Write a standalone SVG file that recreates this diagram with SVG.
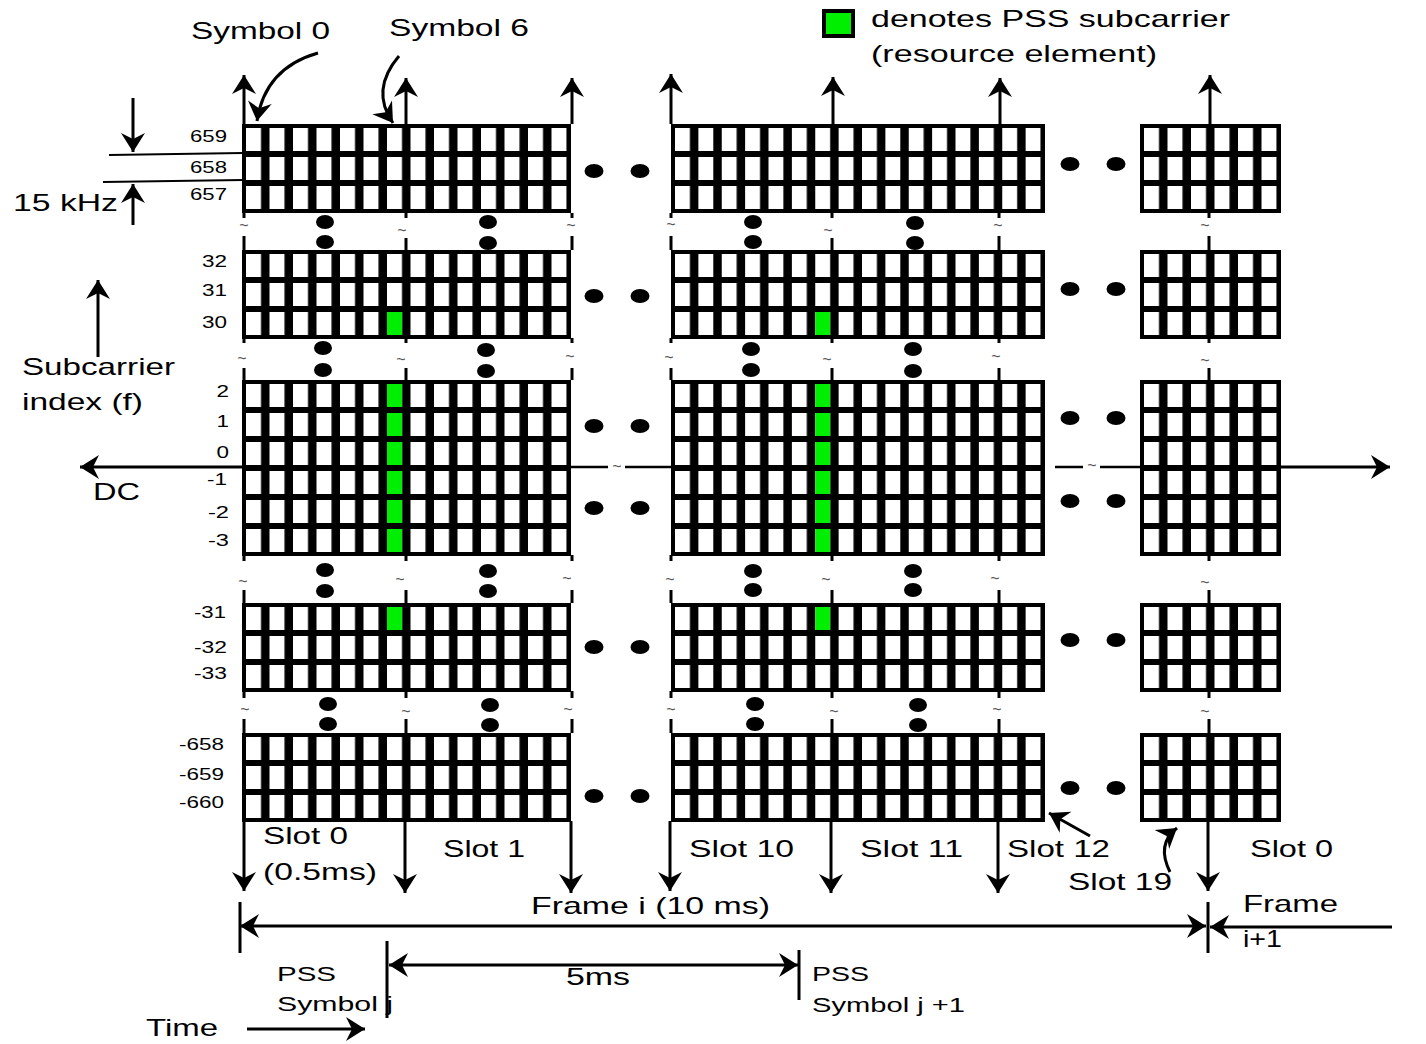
<svg xmlns="http://www.w3.org/2000/svg" width="1426" height="1044" viewBox="0 0 1426 1044">
<style>
text{font-family:"Liberation Sans",Arial,sans-serif;fill:#000}
.lb{font-size:24px}
.sm{font-size:21px}
.rl{font-size:16.5px;text-anchor:end}
.tl{font-size:16px;fill:#555;text-anchor:middle}
.bk{fill:#000}
.gr{fill:#00ee00}
.ln{stroke:#000;stroke-width:3;fill:none}
.thin{stroke:#000;stroke-width:2;fill:none}
.ar{marker-end:url(#ah)}
.ar2{marker-start:url(#ah);marker-end:url(#ah)}
</style>
<defs>
<marker id="ah" viewBox="-20 -13 22 26" refX="0" refY="0" markerWidth="22" markerHeight="26" markerUnits="userSpaceOnUse" orient="auto-start-reverse"><path d="M0,0 L-19,-12 L-13,0 L-19,12 Z" fill="#000"/></marker>
<pattern id="gA" patternUnits="userSpaceOnUse" x="4" y="4" width="23.5" height="29"><rect width="15" height="23" fill="#fff"/></pattern>
<pattern id="gB" patternUnits="userSpaceOnUse" x="4" y="4" width="23.375" height="29"><rect width="14.9" height="23" fill="#fff"/></pattern>
</defs>
<rect width="1426" height="1044" fill="#fff"/>

<g id="blockA">
<g id="A1" transform="translate(242,124)"><rect class="bk" width="329" height="89"/><rect x="4" y="4" width="321" height="81" fill="url(#gA)"/></g>
<g id="A2" transform="translate(242,250)"><rect class="bk" width="329" height="89"/><rect x="4" y="4" width="321" height="81" fill="url(#gA)"/><rect class="gr" x="145" y="62" width="15" height="23"/></g>
<g id="A3" transform="translate(242,380)"><rect class="bk" width="329" height="176"/><rect x="4" y="4" width="321" height="168" fill="url(#gA)"/>
<rect class="gr" x="145" y="4" width="15" height="23"/><rect class="gr" x="145" y="33" width="15" height="23"/><rect class="gr" x="145" y="62" width="15" height="23"/><rect class="gr" x="145" y="91" width="15" height="23"/><rect class="gr" x="145" y="120" width="15" height="23"/><rect class="gr" x="145" y="149" width="15" height="23"/></g>
<g id="A4" transform="translate(242,603)"><rect class="bk" width="329" height="89"/><rect x="4" y="4" width="321" height="81" fill="url(#gA)"/><rect class="gr" x="145" y="4" width="15" height="23"/></g>
<g id="A5" transform="translate(242,733)"><rect class="bk" width="329" height="89"/><rect x="4" y="4" width="321" height="81" fill="url(#gA)"/></g>
</g>

<g id="blockB">
<g id="B1" transform="translate(671,124)"><rect class="bk" width="374" height="89"/><rect x="4" y="4" width="366" height="81" fill="url(#gB)"/></g>
<g id="B2" transform="translate(671,250)"><rect class="bk" width="374" height="89"/><rect x="4" y="4" width="366" height="81" fill="url(#gB)"/><rect class="gr" x="144.25" y="62" width="14.9" height="23"/></g>
<g id="B3" transform="translate(671,380)"><rect class="bk" width="374" height="176"/><rect x="4" y="4" width="366" height="168" fill="url(#gB)"/>
<rect class="gr" x="144.25" y="4" width="14.9" height="23"/><rect class="gr" x="144.25" y="33" width="14.9" height="23"/><rect class="gr" x="144.25" y="62" width="14.9" height="23"/><rect class="gr" x="144.25" y="91" width="14.9" height="23"/><rect class="gr" x="144.25" y="120" width="14.9" height="23"/><rect class="gr" x="144.25" y="149" width="14.9" height="23"/></g>
<g id="B4" transform="translate(671,603)"><rect class="bk" width="374" height="89"/><rect x="4" y="4" width="366" height="81" fill="url(#gB)"/><rect class="gr" x="144.25" y="4" width="14.9" height="23"/></g>
<g id="B5" transform="translate(671,733)"><rect class="bk" width="374" height="89"/><rect x="4" y="4" width="366" height="81" fill="url(#gB)"/></g>
</g>

<g id="blockC">
<g id="C1" transform="translate(1140,124)"><rect class="bk" width="141" height="89"/><rect x="4" y="4" width="133" height="81" fill="url(#gA)"/></g>
<g id="C2" transform="translate(1140,250)"><rect class="bk" width="141" height="89"/><rect x="4" y="4" width="133" height="81" fill="url(#gA)"/></g>
<g id="C3" transform="translate(1140,380)"><rect class="bk" width="141" height="176"/><rect x="4" y="4" width="133" height="168" fill="url(#gA)"/></g>
<g id="C4" transform="translate(1140,603)"><rect class="bk" width="141" height="89"/><rect x="4" y="4" width="133" height="81" fill="url(#gA)"/></g>
<g id="C5" transform="translate(1140,733)"><rect class="bk" width="141" height="89"/><rect x="4" y="4" width="133" height="81" fill="url(#gA)"/></g>
</g>

<g id="legend">
<rect x="824" y="11" width="29" height="25" fill="#00ee00" stroke="#000" stroke-width="4"/>
<text class="lb" x="871" y="27" textLength="359" lengthAdjust="spacingAndGlyphs">denotes PSS subcarrier</text>
<text class="lb" x="871" y="62" textLength="286" lengthAdjust="spacingAndGlyphs">(resource element)</text>
</g>

<g id="dots" fill="#000">
<ellipse cx="325" cy="222" rx="9" ry="7"/><ellipse cx="325" cy="242" rx="9" ry="7"/><ellipse cx="488" cy="222" rx="9" ry="7"/><ellipse cx="488" cy="243" rx="9" ry="7"/>
<ellipse cx="753" cy="222" rx="9" ry="7"/><ellipse cx="753" cy="242" rx="9" ry="7"/><ellipse cx="915" cy="223" rx="9" ry="7"/><ellipse cx="915" cy="243" rx="9" ry="7"/>
<ellipse cx="323" cy="348" rx="9" ry="7"/><ellipse cx="323" cy="370" rx="9" ry="7"/><ellipse cx="486" cy="350" rx="9" ry="7"/><ellipse cx="486" cy="371" rx="9" ry="7"/>
<ellipse cx="751" cy="349" rx="9" ry="7"/><ellipse cx="751" cy="370" rx="9" ry="7"/><ellipse cx="913" cy="349" rx="9" ry="7"/><ellipse cx="913" cy="371" rx="9" ry="7"/>
<ellipse cx="325" cy="570" rx="9" ry="7"/><ellipse cx="325" cy="591" rx="9" ry="7"/><ellipse cx="488" cy="571" rx="9" ry="7"/><ellipse cx="488" cy="591" rx="9" ry="7"/>
<ellipse cx="753" cy="571" rx="9" ry="7"/><ellipse cx="753" cy="590" rx="9" ry="7"/><ellipse cx="913" cy="571" rx="9" ry="7"/><ellipse cx="913" cy="590" rx="9" ry="7"/>
<ellipse cx="328" cy="704" rx="9" ry="7"/><ellipse cx="328" cy="724" rx="9" ry="7"/><ellipse cx="490" cy="705" rx="9" ry="7"/><ellipse cx="490" cy="725" rx="9" ry="7"/>
<ellipse cx="755" cy="704" rx="9" ry="7"/><ellipse cx="755" cy="724" rx="9" ry="7"/><ellipse cx="918" cy="705" rx="9" ry="7"/><ellipse cx="918" cy="725" rx="9" ry="7"/>
<ellipse cx="594" cy="171" rx="9.5" ry="7"/><ellipse cx="640" cy="171" rx="9.5" ry="7"/><ellipse cx="1070" cy="164" rx="9.5" ry="7"/><ellipse cx="1116" cy="164" rx="9.5" ry="7"/>
<ellipse cx="594" cy="296" rx="9.5" ry="7"/><ellipse cx="640" cy="296" rx="9.5" ry="7"/><ellipse cx="1070" cy="289" rx="9.5" ry="7"/><ellipse cx="1116" cy="289" rx="9.5" ry="7"/>
<ellipse cx="594" cy="426" rx="9.5" ry="7"/><ellipse cx="640" cy="426" rx="9.5" ry="7"/><ellipse cx="1070" cy="418" rx="9.5" ry="7"/><ellipse cx="1116" cy="418" rx="9.5" ry="7"/>
<ellipse cx="594" cy="508" rx="9.5" ry="7"/><ellipse cx="640" cy="508" rx="9.5" ry="7"/><ellipse cx="1070" cy="501" rx="9.5" ry="7"/><ellipse cx="1116" cy="501" rx="9.5" ry="7"/>
<ellipse cx="594" cy="647" rx="9.5" ry="7"/><ellipse cx="640" cy="647" rx="9.5" ry="7"/><ellipse cx="1070" cy="640" rx="9.5" ry="7"/><ellipse cx="1116" cy="640" rx="9.5" ry="7"/>
<ellipse cx="594" cy="796" rx="9.5" ry="7"/><ellipse cx="640" cy="796" rx="9.5" ry="7"/><ellipse cx="1070" cy="788" rx="9.5" ry="7"/><ellipse cx="1116" cy="788" rx="9.5" ry="7"/>
</g>

<g id="connectors">
<path class="ln ar" d="M244,124V75"/><path class="ln ar" d="M406,124V78"/><path class="ln ar" d="M572,124V78"/>
<path class="ln ar" d="M671,124V74"/><path class="ln ar" d="M833,124V77"/><path class="ln ar" d="M1000,124V78"/><path class="ln ar" d="M1210,124V75"/>
<path class="ln ar" d="M244,821V891"/><path class="ln ar" d="M405,821V893"/><path class="ln ar" d="M571,821V893"/>
<path class="ln ar" d="M670,821V891"/><path class="ln ar" d="M831,821V893"/><path class="ln ar" d="M998,821V893"/><path class="ln ar" d="M1208,821V891"/>
<path class="ln" d="M244,213V218M244,236V250M244,338V343M244,368V380M244,555V561M244,590V603M244,691V698M244,719V733"/>
<path class="ln" d="M406,213V218M406,238V250M406,338V343M406,368V380M406,555V561M406,590V603M406,691V698M406,719V733"/>
<path class="ln" d="M572,213V218M572,236V250M572,338V343M572,368V380M572,555V561M572,590V603M572,691V698M572,719V733"/>
<path class="ln" d="M671,213V218M671,236V250M671,338V343M671,368V380M671,555V561M671,590V603M671,691V698M671,719V733"/>
<path class="ln" d="M832,213V218M832,238V250M832,338V343M832,368V380M832,555V561M832,590V603M832,691V698M832,719V733"/>
<path class="ln" d="M999,213V218M999,236V250M999,338V343M999,368V380M999,555V561M999,590V603M999,691V698M999,719V733"/>
<path class="ln" d="M1209,213V218M1209,236V250M1209,338V343M1209,368V380M1209,555V561M1209,590V603M1209,691V698M1209,719V733"/>
<path class="ln ar" d="M242,467H80"/>
<path class="ln" style="stroke-width:2.5" d="M571,467H608M625,467H671M1055,467H1083M1100,467H1140"/>
<path class="ln ar" d="M1281,467H1390"/>
<path class="ln ar" d="M133,98V152"/>
<path class="thin" d="M109,155L243,153"/>
<path class="thin" d="M103,182L243,180"/>
<path class="ln ar" d="M133,225V184"/>
<path class="ln ar" d="M98,357V280"/>
<path class="ln ar" d="M318,53Q265,68 257,121"/>
<path class="ln ar" d="M399,56Q370,90 393,123"/>
<path class="ln ar" d="M1090,836L1049,813"/>
<path class="ln ar" d="M1170,872Q1156,844 1177,828"/>
<path class="ln ar2" d="M240,926H1206"/>
<path class="ln ar" d="M1392,927H1210"/>
<path class="ln" d="M240,902V953M1208,902V953"/>
<path class="ln ar2" d="M389,965H798"/>
<path class="ln" d="M387,941V1018M799,950V1000"/>
<path class="ln ar" d="M247,1029H365"/>
</g>

<g id="tildes">
<text class="tl" x="244" y="231">~</text><text class="tl" x="402" y="236">~</text><text class="tl" x="571" y="231">~</text><text class="tl" x="671" y="230">~</text><text class="tl" x="828" y="236">~</text><text class="tl" x="998" y="231">~</text><text class="tl" x="1205" y="231">~</text>
<text class="tl" x="242" y="364">~</text><text class="tl" x="401" y="365">~</text><text class="tl" x="570" y="362">~</text><text class="tl" x="669" y="363">~</text><text class="tl" x="827" y="365">~</text><text class="tl" x="996" y="362">~</text><text class="tl" x="1205" y="366">~</text>
<text class="tl" x="243" y="587">~</text><text class="tl" x="400" y="585">~</text><text class="tl" x="567" y="584">~</text><text class="tl" x="670" y="585">~</text><text class="tl" x="826" y="585">~</text><text class="tl" x="995" y="584">~</text><text class="tl" x="1205" y="588">~</text>
<text class="tl" x="245" y="715">~</text><text class="tl" x="406" y="717">~</text><text class="tl" x="568" y="715">~</text><text class="tl" x="671" y="715">~</text><text class="tl" x="834" y="717">~</text><text class="tl" x="997" y="715">~</text><text class="tl" x="1205" y="717">~</text>
<text class="tl" x="617" y="472">~</text><text class="tl" x="1092" y="471">~</text>
</g>

<g id="rowlabels">
<text class="rl" x="227" y="142" textLength="37" lengthAdjust="spacingAndGlyphs">659</text>
<text class="rl" x="227" y="172.5" textLength="37" lengthAdjust="spacingAndGlyphs">658</text>
<text class="rl" x="227" y="200" textLength="37" lengthAdjust="spacingAndGlyphs">657</text>
<text class="rl" x="227" y="267" textLength="25" lengthAdjust="spacingAndGlyphs">32</text>
<text class="rl" x="227" y="296" textLength="25" lengthAdjust="spacingAndGlyphs">31</text>
<text class="rl" x="227" y="328" textLength="25" lengthAdjust="spacingAndGlyphs">30</text>
<text class="rl" x="229" y="397" textLength="12.5" lengthAdjust="spacingAndGlyphs">2</text>
<text class="rl" x="229" y="427" textLength="12.5" lengthAdjust="spacingAndGlyphs">1</text>
<text class="rl" x="229" y="458" textLength="12.5" lengthAdjust="spacingAndGlyphs">0</text>
<text class="rl" x="227" y="485" textLength="20" lengthAdjust="spacingAndGlyphs">-1</text>
<text class="rl" x="229" y="518" textLength="21" lengthAdjust="spacingAndGlyphs">-2</text>
<text class="rl" x="229" y="546" textLength="21" lengthAdjust="spacingAndGlyphs">-3</text>
<text class="rl" x="226" y="618" textLength="32" lengthAdjust="spacingAndGlyphs">-31</text>
<text class="rl" x="227" y="653" textLength="33" lengthAdjust="spacingAndGlyphs">-32</text>
<text class="rl" x="227" y="679" textLength="33" lengthAdjust="spacingAndGlyphs">-33</text>
<text class="rl" x="224" y="750" textLength="45" lengthAdjust="spacingAndGlyphs">-658</text>
<text class="rl" x="224" y="780" textLength="45" lengthAdjust="spacingAndGlyphs">-659</text>
<text class="rl" x="224" y="808" textLength="45" lengthAdjust="spacingAndGlyphs">-660</text>
</g>

<g id="labels">
<text class="lb" x="191" y="39" textLength="139" lengthAdjust="spacingAndGlyphs">Symbol 0</text>
<text class="lb" x="389" y="36" textLength="140" lengthAdjust="spacingAndGlyphs">Symbol 6</text>
<text class="lb" x="13" y="211" textLength="105" lengthAdjust="spacingAndGlyphs">15 kHz</text>
<text class="lb" x="22" y="375" textLength="153" lengthAdjust="spacingAndGlyphs">Subcarrier</text>
<text class="lb" x="22" y="410" textLength="121" lengthAdjust="spacingAndGlyphs">index (f)</text>
<text class="lb" x="93" y="500" textLength="47" lengthAdjust="spacingAndGlyphs">DC</text>
<text class="lb" x="263" y="844" textLength="85" lengthAdjust="spacingAndGlyphs">Slot 0</text>
<text class="lb" x="263" y="880" textLength="114" lengthAdjust="spacingAndGlyphs">(0.5ms)</text>
<text class="lb" x="443" y="857" textLength="82" lengthAdjust="spacingAndGlyphs">Slot 1</text>
<text class="lb" x="689" y="857" textLength="105" lengthAdjust="spacingAndGlyphs">Slot 10</text>
<text class="lb" x="860" y="857" textLength="103" lengthAdjust="spacingAndGlyphs">Slot 11</text>
<text class="lb" x="1007" y="857" textLength="103" lengthAdjust="spacingAndGlyphs">Slot 12</text>
<text class="lb" x="1068" y="890" textLength="104" lengthAdjust="spacingAndGlyphs">Slot 19</text>
<text class="lb" x="1250" y="857" textLength="83" lengthAdjust="spacingAndGlyphs">Slot 0</text>
<text class="lb" x="531" y="914" textLength="239" lengthAdjust="spacingAndGlyphs">Frame i (10 ms)</text>
<text class="lb" x="1243" y="912" textLength="95" lengthAdjust="spacingAndGlyphs">Frame</text>
<text class="lb" x="1243" y="947" textLength="39" lengthAdjust="spacingAndGlyphs">i+1</text>
<text class="sm" x="277" y="981" textLength="59" lengthAdjust="spacingAndGlyphs">PSS</text>
<text class="sm" x="277" y="1011" textLength="116" lengthAdjust="spacingAndGlyphs">Symbol j</text>
<text class="lb" x="566" y="985" textLength="64" lengthAdjust="spacingAndGlyphs">5ms</text>
<text class="sm" x="812" y="981" textLength="57" lengthAdjust="spacingAndGlyphs">PSS</text>
<text class="sm" x="812" y="1012" textLength="153" lengthAdjust="spacingAndGlyphs">Symbol j +1</text>
<text class="lb" x="146" y="1036" textLength="72" lengthAdjust="spacingAndGlyphs">Time</text>
</g>
</svg>
